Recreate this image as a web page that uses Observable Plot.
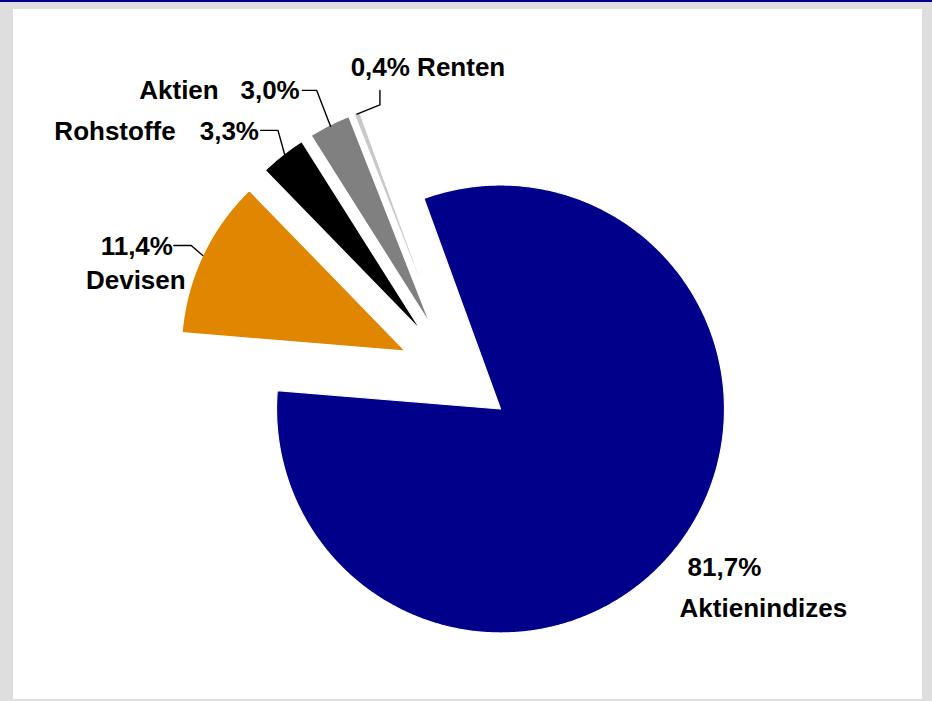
<!DOCTYPE html>
<html><head><meta charset="utf-8">
<script src="https://cdn.jsdelivr.net/npm/d3@7"></script>
<script src="https://cdn.jsdelivr.net/npm/@observablehq/plot@0.6"></script>
<style>
html,body{margin:0;padding:0;background:#dedede;width:932px;height:701px;overflow:hidden;}
#topline{position:absolute;left:0;top:0;width:932px;height:2px;background:#00008b;}
#panel{position:absolute;left:13px;top:9px;width:909px;height:690px;background:#fff;}
#chart{position:absolute;left:0;top:0;}
</style></head><body>
<div id="topline"></div><div id="panel"></div><div id="chart"></div>
<script>
// ---- data ----
const categories = ["Aktienindizes", "Devisen", "Rohstoffe", "Aktien", "Renten"];
const values = [81.7, 11.4, 3.3, 3.0, 0.4];
const valueLabels = ["81,7%", "11,4%", "3,3%", "3,0%", "0,4%"];
const colors = ["#00008b", "#e08600", "#000000", "#808080", "#c8c8c8"];

// ---- layout ----
const W = 932, H = 701, CX = 455.5, CY = 374.5, R = 224;
const START_DEG = 340, EXPLODE = 56 / R;
const FONT = "'Liberation Sans', Arial, Helvetica, sans-serif";
const FONT_SIZE = 26;
// leader polylines: px offsets from the slice's outer mid point
const leaderLayout = {
  "Devisen":   [[0, 0], [-11.6, -10], [-29, -10]],
  "Rohstoffe": [[2, 0], [-4.8, -24.6], [-22.1, -24.6]],
  "Aktien":    [[1, 1], [-12.8, -34.8], [-27.1, -34.8]],
  "Renten":    [[0, 1], [23, -8.3], [23, -22.6]]
};
// label text: px offsets from leader end (or slice outer mid point if no leader)
const textLayout = [
  {name: "Aktienindizes", part: "value", anchor: "start", dx: 9, dy: 31.6},
  {name: "Aktienindizes", part: "name", anchor: "start", dx: 1, dy: 72.6},
  {name: "Devisen", part: "value", anchor: "middle", dx: -37, dy: 9.3},
  {name: "Devisen", part: "name", anchor: "middle", dx: -38, dy: 43.3},
  {name: "Rohstoffe", part: "value", anchor: "end", dx: -1.7, dy: 9.3},
  {name: "Rohstoffe", part: "name", anchor: "end", dx: -85, dy: 9.3},
  {name: "Aktien", part: "value", anchor: "end", dx: -2.7, dy: 8.3},
  {name: "Aktien", part: "name", anchor: "end", dx: -83.7, dy: 8.3},
  {name: "Renten", part: "both", anchor: "start", dx: -29.3, dy: -15}
];

// ---- geometry from data ----
const rows = categories.map((name, i) => ({name, value: values[i], label: valueLabels[i]}));
const toRad = Math.PI / 180;
const arcs = d3.pie().sort(null).value(d => d.value)
  .startAngle(START_DEG * toRad).endAngle((START_DEG + 360) * toRad)(rows);

const dir = a => [Math.sin(a), -Math.cos(a)];
const slicePts = [];
const anchors = {};
for (const a of arcs) {
  const mid = (a.startAngle + a.endAngle) / 2;
  const [dxm, dym] = dir(mid);
  const ax = EXPLODE * dxm, ay = EXPLODE * dym;
  const name = a.data.name;
  slicePts.push({name, x: ax, y: ay});
  const n = Math.max(2, Math.ceil((a.endAngle - a.startAngle) / (0.4 * toRad)));
  for (let k = 0; k <= n; k++) {
    const t = a.startAngle + (a.endAngle - a.startAngle) * k / n;
    const [ux, uy] = dir(t);
    slicePts.push({name, x: ax + ux, y: ay + uy});
  }
  slicePts.push({name, x: ax, y: ay});
  anchors[name] = {x: ax + dxm, y: ay + dym, data: a.data};
}

const leaderPts = [];
const labelBase = {};
for (const name of categories) {
  const p = anchors[name];
  const lay = leaderLayout[name];
  if (lay) {
    for (const [ox, oy] of lay) leaderPts.push({name, x: p.x + ox / R, y: p.y + oy / R});
    const last = lay[lay.length - 1];
    labelBase[name] = {x: p.x + last[0] / R, y: p.y + last[1] / R};
  } else {
    labelBase[name] = {x: p.x, y: p.y};
  }
}

const textPts = textLayout.map(t => {
  const d = anchors[t.name].data;
  const b = labelBase[t.name];
  const text = t.part === "value" ? d.label : t.part === "name" ? d.name : d.label + " " + d.name;
  return {anchor: t.anchor, text, x: b.x + t.dx / R, y: b.y + t.dy / R};
});

const textMark = anchor => Plot.text(textPts.filter(d => d.anchor === anchor), {
  x: "x", y: "y", text: "text", textAnchor: anchor, lineAnchor: "bottom",
  fontSize: FONT_SIZE, fontWeight: "bold", fontFamily: FONT, fill: "black"
});

const chart = Plot.plot({
  width: W, height: H, margin: 0,
  x: {domain: [-CX / R, (W - CX) / R], range: [0, W], axis: null},
  y: {domain: [-CY / R, (H - CY) / R], range: [0, H], axis: null},
  color: {domain: categories, range: colors},
  style: {background: "transparent", overflow: "visible"},
  marks: [
    Plot.line(slicePts, {x: "x", y: "y", z: "name", fill: "name", stroke: "white", strokeWidth: 1.2, curve: "linear"}),
    Plot.line(leaderPts, {x: "x", y: "y", z: "name", stroke: "black", strokeWidth: 1.4, curve: "linear"}),
    textMark("start"), textMark("middle"), textMark("end")
  ]
});
document.getElementById("chart").appendChild(chart);
</script>
</body></html>
